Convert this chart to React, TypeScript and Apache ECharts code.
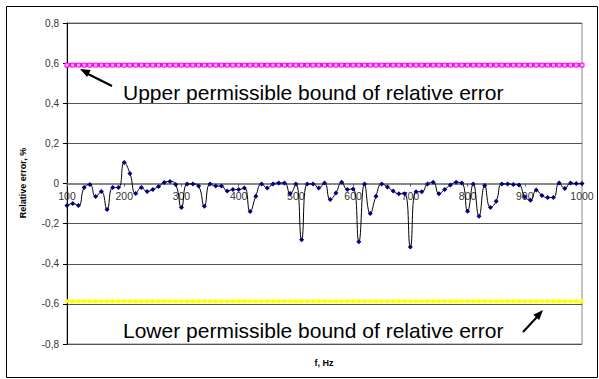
import React, { useEffect, useRef } from "react";
import * as echarts from "echarts";

const frequencies: number[] = [];
for (let f = 100; f <= 1000; f += 10) frequencies.push(f);

const relativeError: number[] = [
  -0.11, -0.10, -0.11, -0.02, -0.005, -0.065, -0.04, -0.13, -0.02, -0.02,
  0.105, 0.05, -0.05, -0.02, -0.04, -0.03, -0.015, 0.005, 0.01, -0.005,
  -0.12, -0.002, -0.002, -0.013, -0.113, -0.002, -0.013, -0.013, -0.038, -0.03,
  -0.03, -0.022, -0.14, -0.063, -0.002, -0.022, -0.002, 0.003, 0.003, -0.05,
  -0.002, -0.28, -0.002, -0.002, -0.022, 0.003, -0.08, -0.047, 0.006, -0.03,
  -0.027, -0.29, -0.002, -0.15, -0.063, -0.002, -0.017, -0.038, -0.051, -0.051,
  -0.317, -0.041, -0.041, -0.002, 0.006, -0.051, -0.03, -0.008, 0.006, 0.003,
  -0.138, -0.002, -0.163, -0.01, -0.12, -0.088, -0.002, -0.002, -0.005, -0.008,
  -0.066, -0.083, -0.033, -0.06, -0.07, -0.07, 0.003, -0.025, 0.002, 0.0,
  0.0,
];

const upperBoundValue = 0.59;
const lowerBoundValue = -0.585;
const upperBound: number[] = frequencies.map(() => upperBoundValue);
const lowerBound: number[] = frequencies.map(() => lowerBoundValue);

const upperLabel = "Upper permissible bound of relative error";
const lowerLabel = "Lower permissible bound of relative error";
const yAxisTitle = "Relative error, %";
const xAxisTitle = "f, Hz";

const FONT = "'Liberation Sans', Arial, sans-serif";

export default function App() {
  const ref = useRef<HTMLDivElement>(null);
  useEffect(() => {
    if (!ref.current) return;
    const chart = echarts.init(ref.current, undefined, { renderer: "svg" });
    chart.setOption({
      animation: false,
      backgroundColor: "#ffffff",
      grid: {
        left: 67,
        right: 17,
        top: 23,
        bottom: 35,
        show: true,
        borderColor: "#888888",
        borderWidth: 1,
      },
      xAxis: {
        type: "category",
        data: frequencies.map(String),
        boundaryGap: false,
        position: "bottom",
        offset: -160.5,
        axisLine: { onZero: false, lineStyle: { color: "#888888", width: 2 } },
        axisTick: { show: true, interval: 9, length: 3, lineStyle: { color: "#555" } },
        axisLabel: {
          interval: 9,
          color: "#333",
          fontFamily: FONT,
          fontSize: 10.5,
          margin: 7,
        },
        splitLine: { show: false },
      },
      yAxis: {
        type: "value",
        min: -0.8,
        max: 0.8,
        interval: 0.2,
        axisLine: { show: true, lineStyle: { color: "#000", width: 1 } },
        axisTick: { show: true, length: 4, lineStyle: { color: "#000" } },
        axisLabel: {
          color: "#333",
          fontFamily: FONT,
          fontSize: 10,
          margin: 8,
          formatter: (v: number) =>
            Math.abs(v) < 1e-9 ? "0" : v.toFixed(1).replace(".", ","),
        },
        splitLine: { show: true, lineStyle: { color: "#555", width: 1 } },
      },
      series: [
        {
          type: "line",
          data: upperBound,
          symbol: "rect",
          symbolSize: 4,
          showAllSymbol: true,
          lineStyle: { color: "#ff00ff", width: 3 },
          itemStyle: { color: "#ffb0ff", borderColor: "#ff00ff", borderWidth: 1 },
          z: 3,
        },
        {
          type: "line",
          data: lowerBound,
          symbol: "triangle",
          symbolSize: 5,
          showAllSymbol: true,
          lineStyle: { color: "#ffff00", width: 2 },
          itemStyle: { color: "#ffff00" },
          z: 3,
        },
        {
          type: "line",
          data: relativeError,
          smooth: 0.5,
          symbol: "diamond",
          symbolSize: 5,
          showAllSymbol: true,
          lineStyle: { color: "#000000", width: 1 },
          itemStyle: { color: "#000080" },
          z: 4,
        },
      ],
      graphic: [
        {
          type: "rect",
          shape: { x: 6.5, y: 6.5, width: 591, height: 371 },
          style: { fill: "none", stroke: "#000", lineWidth: 1 },
          silent: true,
        },
        {
          type: "text",
          x: 123,
          y: 92,
          style: {
            text: upperLabel,
            font: `21px ${FONT}`,
            fill: "#000",
            verticalAlign: "middle",
          },
        },
        {
          type: "text",
          x: 123,
          y: 330,
          style: {
            text: lowerLabel,
            font: `21px ${FONT}`,
            fill: "#000",
            verticalAlign: "middle",
          },
        },
        {
          type: "polyline",
          shape: { points: [[112, 86], [88, 74]] },
          style: { stroke: "#000", lineWidth: 2 },
        },
        {
          type: "polygon",
          shape: { points: [[80, 69], [90.7, 69.9], [87.1, 77.1]] },
          style: { fill: "#000" },
        },
        {
          type: "polyline",
          shape: { points: [[523, 332], [537, 317]] },
          style: { stroke: "#000", lineWidth: 2 },
        },
        {
          type: "polygon",
          shape: { points: [[543, 310], [539.2, 320.1], [533.3, 314.7]] },
          style: { fill: "#000" },
        },
        {
          type: "text",
          x: 23,
          y: 183,
          rotation: Math.PI / 2,
          style: {
            text: yAxisTitle,
            font: `bold 9px ${FONT}`,
            fill: "#000",
            align: "center",
            verticalAlign: "middle",
          },
        },
        {
          type: "text",
          x: 324,
          y: 363,
          style: {
            text: xAxisTitle,
            font: `bold 9px ${FONT}`,
            fill: "#000",
            align: "center",
            verticalAlign: "middle",
          },
        },
      ],
    });
    return () => chart.dispose();
  }, []);
  return (
    <div
      ref={ref}
      style={{ position: "fixed", left: 0, top: 0, width: 599, height: 379 }}
    />
  );
}
